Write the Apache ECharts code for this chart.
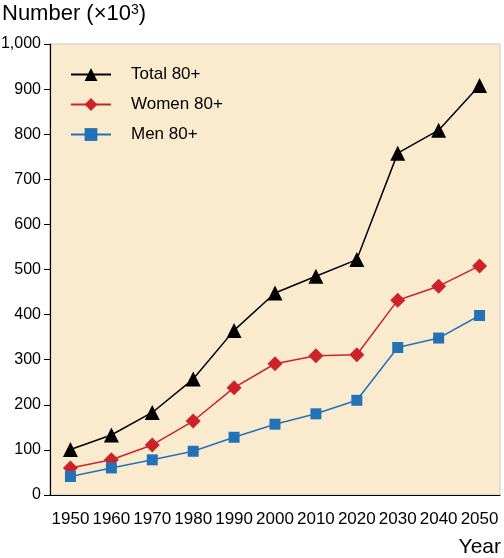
<!DOCTYPE html>
<html>
<head>
<meta charset="utf-8">
<script src="https://cdn.jsdelivr.net/npm/echarts@6/dist/echarts.min.js"></script>
<style>html,body{margin:0;padding:0;background:#fff}#c{width:504px;height:558px}</style>
</head>
<body>
<div id="c"></div>
<script>
var years = ['1950','1960','1970','1980','1990','2000','2010','2020','2030','2040','2050'];
var total = [101, 133, 183, 257, 365, 448, 485, 522, 758, 809, 908];
var women = [60, 78, 111, 164, 238, 291, 309, 311, 432, 463, 508];
var men = [41, 60, 78, 97, 128, 157, 180, 210, 327, 348, 398];
var yTicks = [0, 100, 200, 300, 400, 500, 600, 700, 800, 900, 1000];

var chart = echarts.init(document.getElementById('c'));
var F = 'Liberation Sans, Arial, Helvetica, sans-serif';
chart.setOption({
  animation: false,
  textStyle: {fontFamily: F},
  title: {
    text: 'Number (\u00d710{s|3})',
    left: -3, top: -2,
    textStyle: {fontFamily: F, fontSize: 22, fontWeight: 'normal', color: '#000',
      rich: {s: {fontSize: 14, verticalAlign: 'top', padding: [0, 0, 8, 0], color: '#000', fontFamily: F}}}
  },
  graphic: [{
    type: 'text', right: 3, top: 537,
    style: {text: 'Year', font: '21px ' + F, fill: '#000'}
  }],
  legend: {
    left: 65, top: 61, orient: 'vertical', itemGap: 13,
    itemWidth: 40, itemHeight: 16,
    textStyle: {fontFamily: F, fontSize: 17, color: '#000', padding: [0, 0, 0, 15]},
    data: ['Total 80+', 'Women 80+', 'Men 80+']
  },
  grid: {
    left: 50, right: 4, top: 44, bottom: 63,
    outerBoundsMode: 'none', containLabel: false,
    show: true, backgroundColor: '#faebcf', borderColor: '#c8c8c8', borderWidth: 1
  },
  xAxis: {
    type: 'category', data: years, boundaryGap: true,
    axisLine: {lineStyle: {color: '#000', width: 1.2}},
    axisTick: {length: 7, lineStyle: {color: '#000'}},
    axisLabel: {color: '#000', fontSize: 17, margin: 16, fontFamily: F, interval: 0}
  },
  yAxis: {
    type: 'value', min: 0, max: 1000, interval: 100,
    axisLine: {show: true, lineStyle: {color: '#000', width: 1.2}},
    axisTick: {show: true, length: 6, lineStyle: {color: '#000'}},
    splitLine: {show: false},
    axisLabel: {
      color: '#000', fontSize: 16, margin: 9, fontFamily: F,
      formatter: function (v) { return yTicks.indexOf(v) >= 0 ? (v === 1000 ? '1,000' : String(v)) : ''; }
    }
  },
  series: [
    {name: 'Total 80+', type: 'line', data: total, symbol: 'triangle', symbolSize: 15,
     itemStyle: {color: '#000'}, lineStyle: {color: '#000', width: 1.5}},
    {name: 'Women 80+', type: 'line', data: women, symbol: 'diamond', symbolSize: 15,
     itemStyle: {color: '#cc232a'}, lineStyle: {color: '#cc232a', width: 1.5}},
    {name: 'Men 80+', type: 'line', data: men, symbol: 'rect', symbolSize: 11,
     itemStyle: {color: '#2372b8'}, lineStyle: {color: '#2372b8', width: 1.5}}
  ]
});
</script>
</body>
</html>
